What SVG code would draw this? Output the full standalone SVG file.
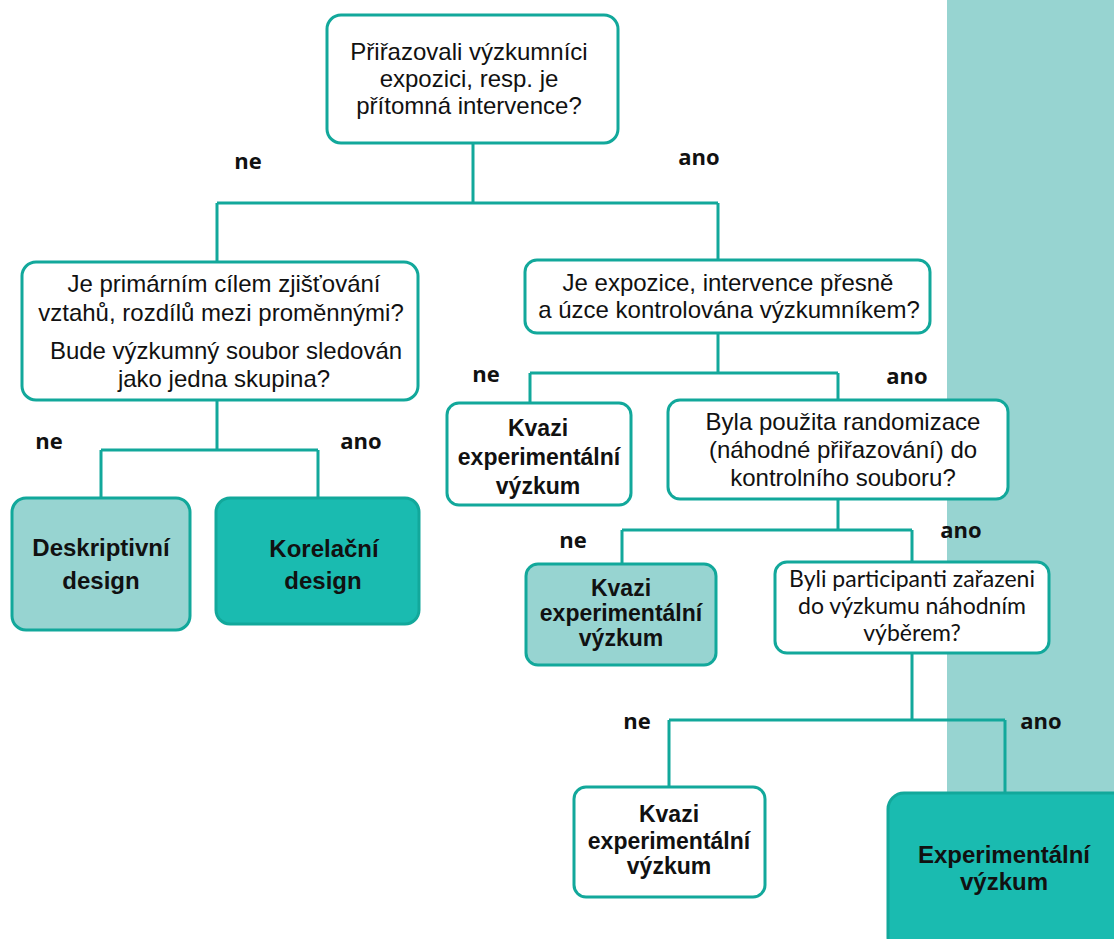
<svg xmlns="http://www.w3.org/2000/svg" width="1114" height="939" viewBox="0 0 1114 939">
  <style>
    .box { stroke: #12A89B; stroke-width: 3; }
    .white { fill: #FFFFFF; }
    .light { fill: #97D4D1; }
    .dark { fill: #1ABBB0; }
    .q { font-family: "Liberation Sans", Arial, sans-serif; font-size: 24px; fill: #111111; text-anchor: middle; }
    .q2 { font-family: Lato, "Open Sans", sans-serif; font-size: 23px; fill: #111111; text-anchor: middle; }
    .res { font-family: "Liberation Sans", Arial, sans-serif; font-size: 24px; font-weight: bold; fill: #111111; text-anchor: middle; }
    .res-s { font-size: 23px; }
    .lbl { font-family: "Open Sans", "DejaVu Sans", sans-serif; font-size: 22px; font-weight: bold; fill: #111111; text-anchor: middle; }
    .conn { fill: none; stroke: #12A89B; stroke-width: 3; }
  </style>

  <!-- background strip on the right -->
  <rect x="947" y="0" width="167" height="939" fill="#97D4D1"/>

  <!-- connectors -->
  <g id="connectors">
    <path class="conn" d="M473 143 V203 M217 203 H718 M217 203 V262 M718 203 V260"/>
    <path class="conn" d="M217 400 V450 M101 450 H318 M101 450 V498 M318 450 V498"/>
    <path class="conn" d="M718 333 V373 M530 373 H838 M530 373 V403 M838 373 V400"/>
    <path class="conn" d="M838 499 V530 M622 530 H912 M622 530 V564 M912 530 V562"/>
    <path class="conn" d="M912 653 V720 M669 720 H1005 M669 720 V787 M1005 720 V793"/>
  </g>

  <!-- branch labels -->
  <g id="labels">
    <text class="lbl" x="248" y="169">ne</text>
    <text class="lbl" x="699" y="165">ano</text>
    <text class="lbl" x="49" y="449">ne</text>
    <text class="lbl" x="361" y="449">ano</text>
    <text class="lbl" x="486" y="382">ne</text>
    <text class="lbl" x="907" y="384">ano</text>
    <text class="lbl" x="573" y="548">ne</text>
    <text class="lbl" x="961" y="538">ano</text>
    <text class="lbl" x="637" y="729">ne</text>
    <text class="lbl" x="1041" y="729">ano</text>
  </g>

  <g id="q-assign">
    <rect class="box white" x="327" y="15" width="291" height="128" rx="14"/>
    <text class="q" x="469" y="60">Přiřazovali výzkumníci</text>
    <text class="q" x="469" y="87">expozici, resp. je</text>
    <text class="q" x="469" y="114">přítomná intervence?</text>
  </g>

  <g id="q-relations">
    <rect class="box white" x="22" y="262" width="396" height="138" rx="14"/>
    <text class="q" x="224" y="292">Je primárním cílem zjišťování</text>
    <text class="q" x="221" y="321">vztahů, rozdílů mezi proměnnými?</text>
    <text class="q" x="226" y="359">Bude výzkumný soubor sledován</text>
    <text class="q" x="224" y="387">jako jedna skupina?</text>
  </g>

  <g id="q-control">
    <rect class="box white" x="525" y="260" width="405" height="73" rx="12"/>
    <text class="q" x="728" y="291">Je expozice, intervence přesně</text>
    <text class="q" x="729" y="318">a úzce kontrolována výzkumníkem?</text>
  </g>

  <g id="r-descriptive">
    <rect class="box light" x="12" y="498" width="178" height="132" rx="14"/>
    <text class="res" x="101" y="556">Deskriptivní</text>
    <text class="res" x="101" y="589">design</text>
  </g>

  <g id="r-correlational">
    <rect class="box dark" x="216" y="498" width="203" height="126" rx="14"/>
    <text class="res" x="324" y="557">Korelační</text>
    <text class="res" x="323" y="589">design</text>
  </g>

  <g id="r-quasi-1">
    <rect class="box white" x="447" y="403" width="184" height="102" rx="12"/>
    <text class="res res-s" x="538" y="436">Kvazi</text>
    <text class="res res-s" x="539" y="465">experimentální</text>
    <text class="res res-s" x="538" y="494">výzkum</text>
  </g>

  <g id="q-random">
    <rect class="box white" x="668" y="400" width="340" height="99" rx="12"/>
    <text class="q" x="843" y="430">Byla použita randomizace</text>
    <text class="q" x="843" y="458">(náhodné přiřazování) do</text>
    <text class="q" x="843" y="486">kontrolního souboru?</text>
  </g>

  <g id="r-quasi-2">
    <rect class="box light" x="526" y="564" width="190" height="101" rx="12"/>
    <text class="res res-s" x="621" y="596">Kvazi</text>
    <text class="res res-s" x="621" y="621">experimentální</text>
    <text class="res res-s" x="621" y="646">výzkum</text>
  </g>

  <g id="q-sampling">
    <rect class="box white" x="775" y="562" width="274" height="91" rx="12"/>
    <text class="q2" x="912" y="587">Byli participanti zařazeni</text>
    <text class="q2" x="912" y="614">do výzkumu náhodním</text>
    <text class="q2" x="912" y="641">výběrem?</text>
  </g>

  <g id="r-quasi-3">
    <rect class="box white" x="574" y="787" width="191" height="110" rx="12"/>
    <text class="res res-s" x="669" y="822">Kvazi</text>
    <text class="res res-s" x="669" y="849">experimentální</text>
    <text class="res res-s" x="669" y="874">výzkum</text>
  </g>

  <g id="r-experimental">
    <rect class="box dark" x="888" y="793" width="240" height="160" rx="16"/>
    <text class="res" x="1004" y="863">Experimentální</text>
    <text class="res" x="1004" y="890">výzkum</text>
  </g>
</svg>
